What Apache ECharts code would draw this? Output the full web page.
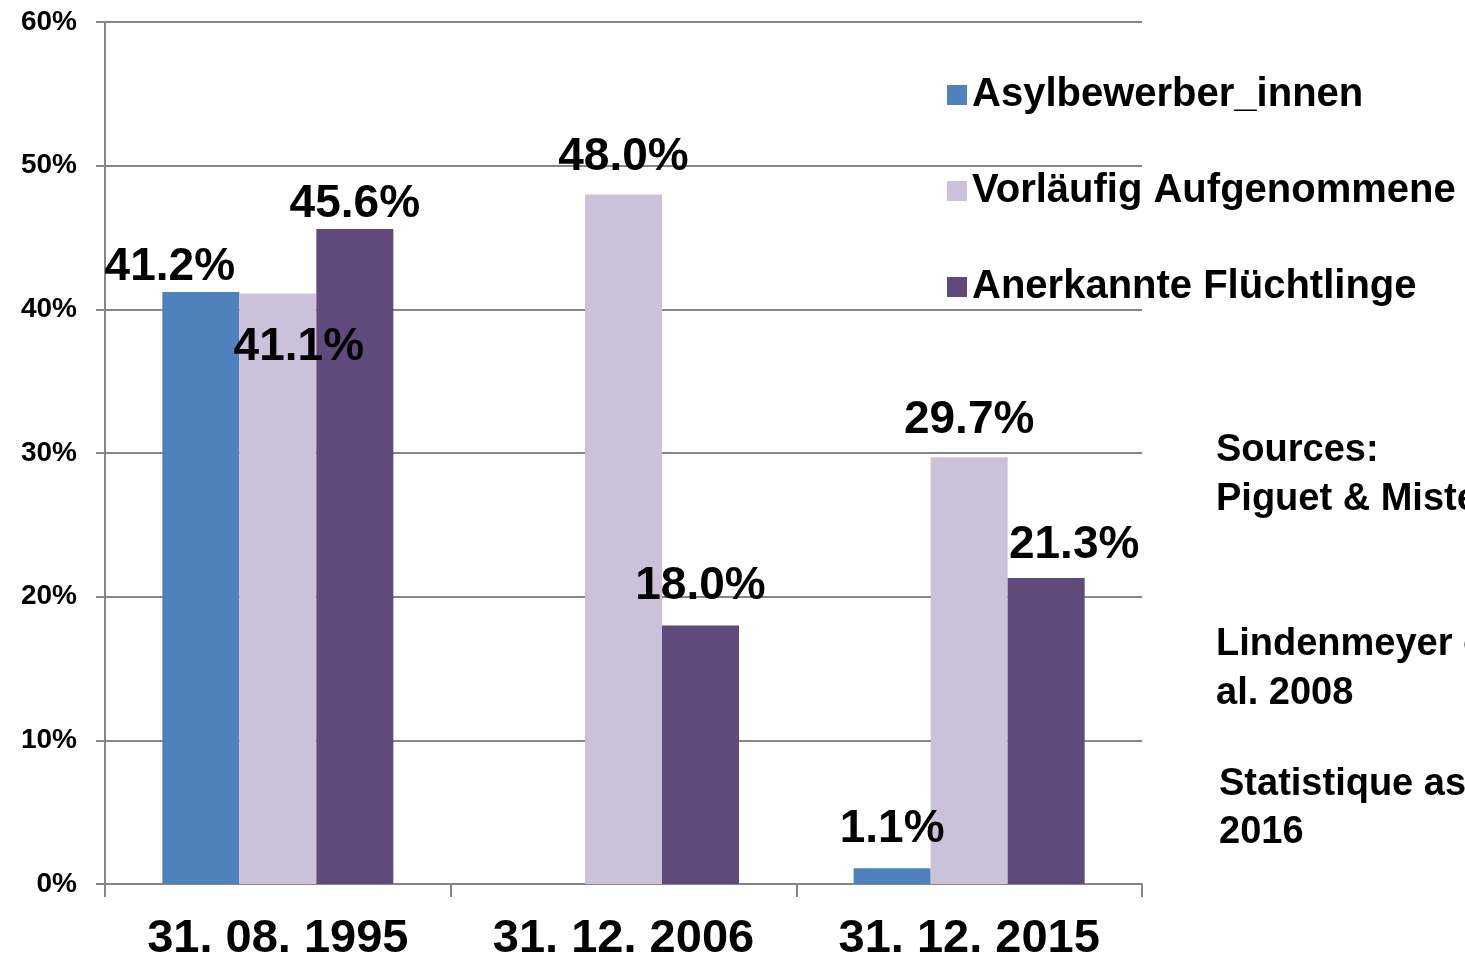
<!DOCTYPE html>
<html>
<head>
<meta charset="utf-8">
<script src="https://cdn.jsdelivr.net/npm/echarts@6/dist/echarts.min.js"></script>
<style>
  html, body { margin: 0; padding: 0; background: #fff; }
  #chart { width: 1465px; height: 960px; }
</style>
</head>
<body>
<div id="chart"></div>
<script>
const categories = ['31. 08. 1995', '31. 12. 2006', '31. 12. 2015'];
const seriesNames = ['Asylbewerber_innen', 'Vorläufig Aufgenommene', 'Anerkannte Flüchtlinge'];
const asylbewerber = [41.2, null, 1.1];
const vorlaeufig = [41.1, 48.0, 29.7];
const anerkannt = [45.6, 18.0, 21.3];
const yTicks = [0, 10, 20, 30, 40, 50, 60];
const sourceLines = ['Sources:', 'Piguet & Misteli', '', '', 'Lindenmeyer et', 'al. 2008', '', 'Statistique asile', '2016'];

// label nudges per bar (x, y)
const labelOffsets = [
  [[-31, 3], [0, 0], [0, -11]],
  [[21, 82], [0, -9], [0, -9]],
  [[0, 3], [0, -11], [28, -5]]
];
const colors = ['#4F81BD', '#CCC1DA', '#604A7B'];
const font = 'Liberation Sans, Arial, sans-serif';

const chart = echarts.init(document.getElementById('chart'));

function makeSeries(name, values, idx) {
  return {
    name: name,
    type: 'bar',
    barWidth: 77,
    barGap: '0%',
    itemStyle: { color: colors[idx] },
    data: values.map((v, i) => ({
      value: v,
      label: { offset: labelOffsets[idx][i] }
    })),
    label: {
      show: true,
      position: 'top',
      distance: 5,
      formatter: p => p.value == null ? '' : p.value.toFixed(1) + '%',
      fontFamily: font,
      fontWeight: 'bold',
      fontSize: 46,
      color: '#000'
    }
  };
}

const option = {
  animation: false,
  backgroundColor: '#fff',
  grid: { left: 105, right: 323, top: 22, bottom: 76, containLabel: false, outerBoundsMode: 'none' },
  legend: {
    orient: 'vertical',
    left: 942,
    top: 70,
    itemGap: 56,
    itemWidth: 20,
    itemHeight: 20,
    icon: 'rect',
    textStyle: { fontFamily: font, fontWeight: 'bold', fontSize: 40, color: '#000' },
    data: seriesNames
  },
  xAxis: {
    type: 'category',
    data: categories,
    axisLine: { lineStyle: { color: '#868686', width: 2 } },
    axisTick: { show: true, length: 13, lineStyle: { color: '#868686', width: 2 } },
    axisLabel: {
      margin: 32,
      fontFamily: font,
      fontWeight: 'bold',
      fontSize: 47,
      color: '#000'
    }
  },
  yAxis: {
    type: 'value',
    min: yTicks[0],
    max: yTicks[yTicks.length - 1],
    interval: 10,
    axisLine: { show: true, lineStyle: { color: '#868686', width: 2 } },
    axisTick: { show: true, length: 9, lineStyle: { color: '#868686', width: 2 } },
    splitLine: { lineStyle: { color: '#868686', width: 2 } },
    axisLabel: {
      margin: 28,
      formatter: v => v + '%',
      fontFamily: font,
      fontWeight: 'bold',
      fontSize: 28,
      color: '#000'
    }
  },
  graphic: sourceLines.map((t, i) => ({
    type: 'text',
    left: i >= 7 ? 1219 : 1216,
    top: 432 + i * 48.5 + (i >= 7 ? -6 : 0),
    style: {
      text: t,
      fontFamily: font,
      fontWeight: 'bold',
      fontSize: 38,
      fill: '#000'
    }
  })),
  series: [
    makeSeries(seriesNames[0], asylbewerber, 0),
    makeSeries(seriesNames[1], vorlaeufig, 1),
    makeSeries(seriesNames[2], anerkannt, 2)
  ]
};

chart.setOption(option);
</script>
</body>
</html>
